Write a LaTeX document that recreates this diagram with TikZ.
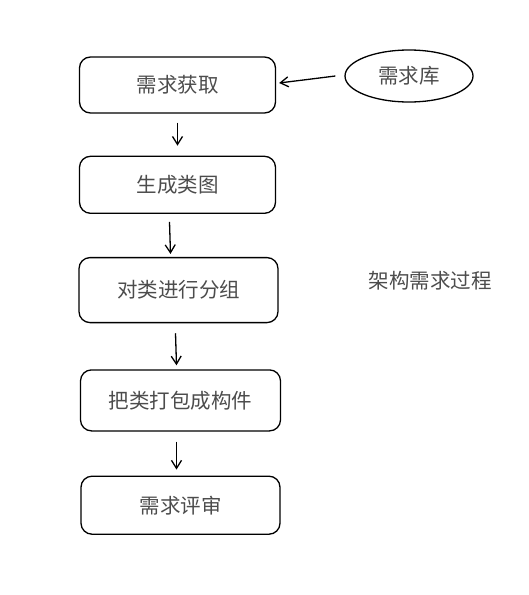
\documentclass[tikz,border=0pt]{standalone}
\usepackage{fontspec}
\setmainfont{Noto Sans CJK SC}
\usetikzlibrary{arrows.meta, positioning, shapes.geometric}
\tikzstyle{flow}=[line width=1.3pt, >={Straight Barb[length=8pt,width=10pt]}, font=\fontsize{20.5}{24}\selectfont, text=black!70]
\tikzstyle{stepbox}=[draw, rounded corners=11pt, minimum width=196pt, inner sep=0pt]

\begin{document}
\begin{tikzpicture}[flow, x=1pt, y=1pt]
  \useasboundingbox (0,0) rectangle (528,-595);
  \node[stepbox, minimum height=56pt] (get) at (177.5,-85) {需求获取};
  \node[stepbox, minimum height=57pt] (graph) [below=42pt of get] {生成类图};
  \node[stepbox, minimum height=65pt, minimum width=199pt] (group) [below=43pt of graph, xshift=1pt] {对类进行分组};
  \node[stepbox, minimum height=61pt, minimum width=200pt] (pack) [below=46pt of group, xshift=2pt] {把类打包成构件};
  \node[stepbox, minimum height=58pt, minimum width=199pt] (review) [below=44pt of pack] {需求评审};
  \node[draw, ellipse, minimum width=128pt, minimum height=52pt, inner sep=0pt] (lib) at (409,-76) {需求库};
  \node (title) at (430,-281) {架构需求过程};
  \path[->] ([xshift=-9pt]lib.west) edge ([xshift=3pt,yshift=2pt]get.east);
  \path[->] ([yshift=-9pt]get.south) edge ([yshift=10pt]graph.north);
  \path[->] ([xshift=-8pt,yshift=-8pt]graph.south) edge ([xshift=-8pt,yshift=3pt]group.north);
  \path[->] ([xshift=-3pt,yshift=-10pt]group.south) edge ([xshift=-4pt,yshift=4pt]pack.north);
  \path[->] ([xshift=-4pt,yshift=-10pt]pack.south) edge ([xshift=-4pt,yshift=6pt]review.north);
\end{tikzpicture}
\end{document}
